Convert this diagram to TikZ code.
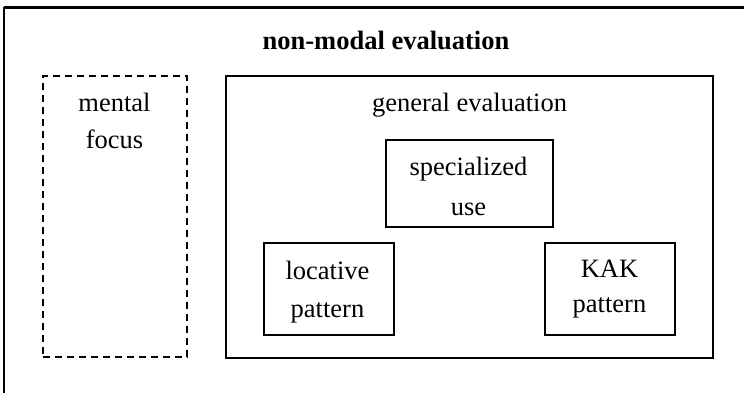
\documentclass[tikz,border=0pt]{standalone}
\usepackage{fontspec}
\setmainfont{Liberation Serif}
\begin{document}
\begin{tikzpicture}[x=1pt,y=-1pt,
  every node/.style={font=\fontsize{26.5}{38}\selectfont},
  box/.style={draw,line width=2pt,rectangle,inner sep=0pt},
  dbox/.style={draw,line width=2pt,dash pattern=on 7pt off 5pt,rectangle,inner sep=0pt},
  lbl/.style={inner sep=0pt,align=center,anchor=base}]
\useasboundingbox (0,0) rectangle (744,393);
% open frame: top edge and left edge only
\coordinate (frameTL) at (4,7.5);
\coordinate (frameTR) at (744,7.5);
\coordinate (frameBL) at (4,393);
\draw[line width=2.5pt] (frameTR) -- (frameTL);
\draw[line width=1.8pt] (frameTL) -- (frameBL);
\node[inner sep=0pt,font=\fontsize{26.5}{38}\selectfont\bfseries] (title) at (386,40) {non-modal evaluation};
% dashed side box (labels are placed by the baseline of their last line)
\node[dbox,minimum width=144pt,minimum height=281pt] (mental) at (115,216.5) {};
\node[lbl,font=\fontsize{26.5}{36}\selectfont] (mentaltxt) at (114.5,148) {mental\\focus};
% general evaluation box with its three sub-boxes
\node[box,minimum width=487pt,minimum height=282pt] (general) at (469.5,217) {};
\node[lbl] (generaltxt) at (469.5,112) {general evaluation};
\node[box,minimum width=167pt,minimum height=87pt] (special) at (469.5,183.5) {};
\node[lbl,font=\fontsize{26.5}{40}\selectfont] (specialtxt) at (468.5,215) {specialized\\use};
\node[box,minimum width=130pt,minimum height=92pt] (locative) at (329,289) {};
\node[lbl,font=\fontsize{26.5}{38}\selectfont] (locativetxt) at (327.5,317) {locative\\pattern};
\node[box,minimum width=130pt,minimum height=92pt] (kak) at (610,289) {};
\node[lbl,font=\fontsize{26.5}{35}\selectfont] (kaktxt) at (609.5,312) {KAK\\pattern};
\end{tikzpicture}
\end{document}
